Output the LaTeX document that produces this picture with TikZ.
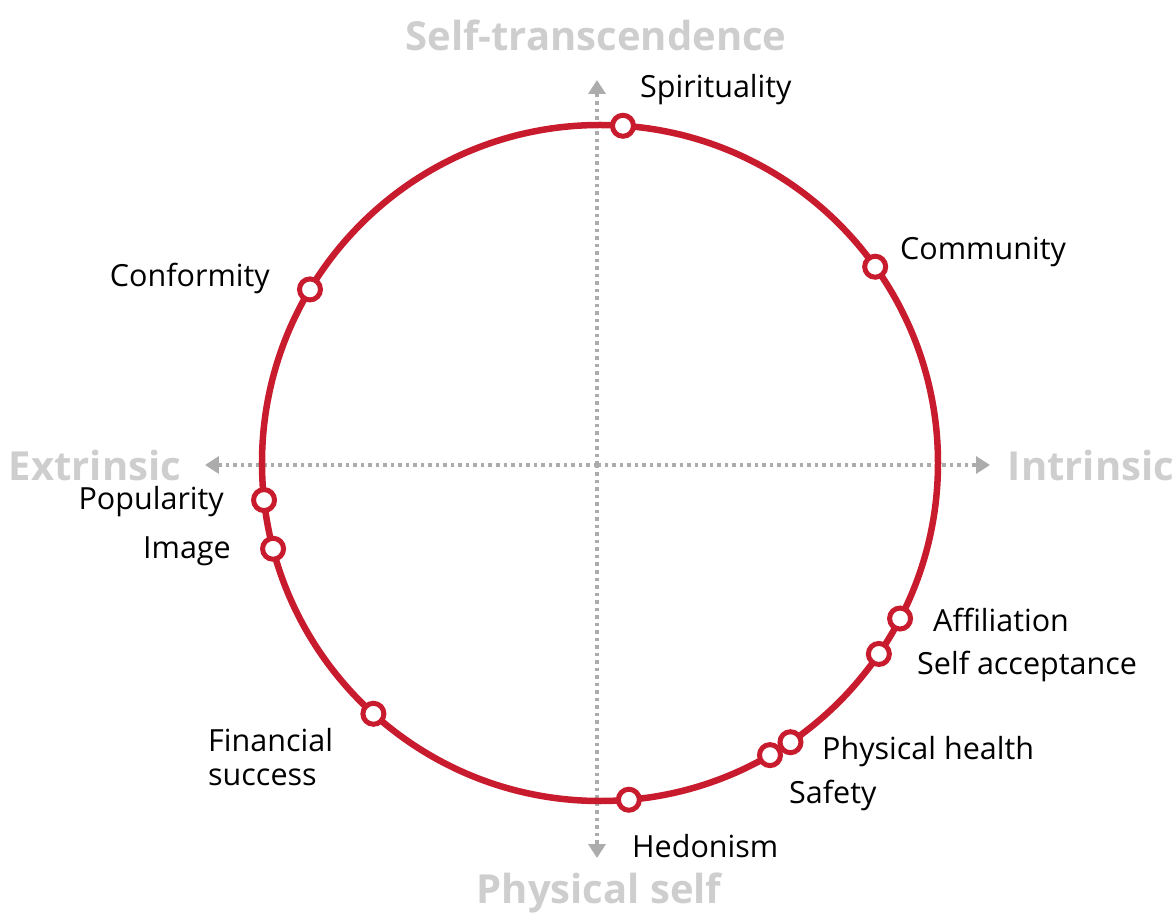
\documentclass[tikz,border=0pt]{standalone}
\usepackage{fontspec}
\setmainfont{Open Sans}
\usepackage{xcolor}
\usetikzlibrary{positioning,arrows.meta}
\definecolor{ringred}{RGB}{200,28,46}
\definecolor{axisgray}{RGB}{172,172,172}
\definecolor{titlegray}{RGB}{206,206,206}

\begin{document}
\begin{tikzpicture}[x=1pt, y=1pt,
      ring/.style={draw=ringred, line width=6.5pt},
      dot/.style={circle, draw=ringred, fill=white, line width=5pt,
                  minimum size=21pt, inner sep=0pt},
      lbl/.style={font=\fontsize{30.5}{34}\selectfont, text=black, inner sep=0pt},
      axistitle/.style={font=\fontsize{40}{44}\selectfont\bfseries, text=titlegray, inner sep=0pt},
      axisline/.style={draw=axisgray, line width=3.5pt, dash pattern=on 3.5pt off 4pt,
                       -{Triangle[length=14pt, width=17pt]}}]
    \useasboundingbox (-600,-457) rectangle (574,463);
    % axes
    \coordinate (c) at (0,0);
    \coordinate (top) at (-3,383);
    \coordinate (bot) at (-3,-395);
    \coordinate (lft) at (-395,-2);
    \coordinate (rgt) at (390,-2);
    \coordinate (mv) at (-3,-2);
    \draw[axisline] (mv) -- (top);
    \draw[axisline] (mv) -- (bot);
    \draw[axisline] (mv) -- (lft);
    \draw[axisline] (mv) -- (rgt);
    \node[axistitle] (st) at (-4,428) {Self-transcendence};
    \node[axistitle] (ps) at (-1,-430) {Physical self};
    \node[axistitle] (ex) at (-505,-3) {Extrinsic};
    \node[axistitle] (in) at (491,-3) {Intrinsic};
    % ring
    \draw[ring] (c) circle (338);
    % values on the ring
    \node[dot] (spir) at (86.1:338) {};
    \node[dot] (comm) at (35.5:338) {};
    \node[dot] (conf) at (149.1:338) {};
    \node[dot] (popu) at (186.3:338) {};
    \node[dot] (imag) at (194.7:338) {};
    \node[dot] (fina) at (227.9:338) {};
    \node[dot] (hedo) at (274.9:338) {};
    \node[dot] (safe) at (300.2:338) {};
    \node[dot] (phys) at (304.3:338) {};
    \node[dot] (sacc) at (325.6:338) {};
    \node[dot] (affi) at (332.6:338) {};
    % labels
    \node[lbl, anchor=west] (spirl) at (40,373) {Spirituality};
    \node[lbl, anchor=west] (comml) at (300,211) {Community};
    \node[lbl, anchor=east] (confl) at (-330,185) {Conformity};
    \node[lbl, anchor=east] (popul) at (-376,-39) {Popularity};
    \node[lbl, anchor=east] (imagl) at (-369,-88) {Image};
    \node[lbl, anchor=west, align=left] (final) at (-392,-294) {Financial\\success};
    \node[lbl, anchor=west] (hedol) at (32,-383) {Hedonism};
    \node[lbl, anchor=west] (safel) at (189,-332) {Safety};
    \node[lbl, anchor=west] (physl) at (222,-289) {Physical health};
    \node[lbl, anchor=west] (saccl) at (317,-203) {Self acceptance};
    \node[lbl, anchor=west] (affil) at (333,-157) {Affiliation};
  \end{tikzpicture}
\end{document}
